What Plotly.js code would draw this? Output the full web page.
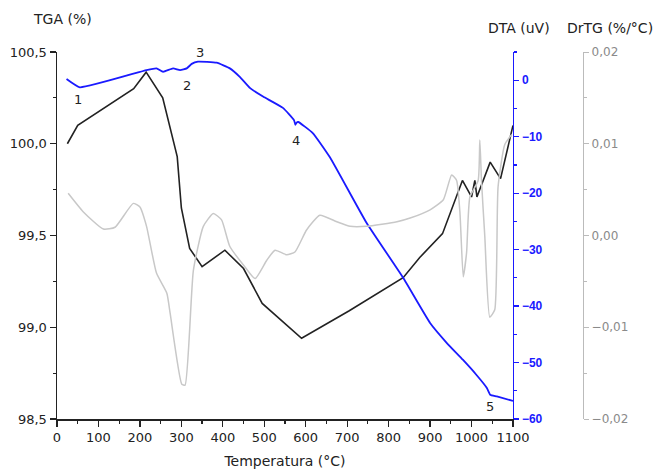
<!DOCTYPE html>
<html>
<head>
<meta charset="utf-8">
<script src="https://cdn.plot.ly/plotly-3.0.1.min.js"></script>
<style>html,body{margin:0;padding:0;background:#fff;}#chart{width:662px;height:474px;}</style>
</head>
<body>
<div id="chart"></div>
<script>
// TGA (%) curve
const tgaTemp = [25, 50, 185, 215, 255, 290, 300, 320, 350, 405, 450, 495, 590, 705, 835, 875, 930, 965, 978, 1000, 1008, 1013, 1045, 1070, 1100];
const tgaVal  = [100.0, 100.1, 100.3, 100.39, 100.25, 99.93, 99.65, 99.43, 99.33, 99.42, 99.32, 99.13, 98.94, 99.09, 99.27, 99.38, 99.51, 99.73, 99.80, 99.71, 99.80, 99.71, 99.90, 99.81, 100.1];

// DTA (uV) curve
const dtaTemp = [23, 55, 216, 240, 256, 280, 297, 313, 325, 340, 385, 417, 441, 466, 497, 545, 572, 575, 578, 582, 617, 658, 747, 835, 900, 940, 979, 1012, 1037, 1045, 1061, 1100];
const dtaVal  = [0.2, -1.25, 1.8, 2.1, 1.5, 2.1, 1.8, 2.1, 2.9, 3.3, 3.1, 2.1, 0.6, -1.4, -2.9, -4.9, -7.1, -7.9, -7.5, -7.4, -9.35, -13.6, -25.3, -35.0, -43.0, -46.5, -49.5, -52.2, -54.5, -55.7, -56.0, -56.8];

// DrTG (%/°C) curve
const drtgTemp = [27, 63, 112, 140, 184, 200, 216, 240, 265, 273, 301, 309, 329, 353, 377, 397, 417, 453, 478, 506, 526, 554, 574, 602, 634, 675, 707, 747, 820, 852, 900, 932, 952, 964, 972, 980, 988, 996, 1016, 1020, 1024, 1032, 1044, 1056, 1064, 1080, 1097];
const drtgVal  = [0.0046, 0.0026, 0.0007, 0.0009, 0.0035, 0.0031, 0.001, -0.0041, -0.0063, -0.0085, -0.0162, -0.0163, -0.0038, 0.001, 0.0024, 0.0017, -0.0012, -0.0034, -0.0047, -0.0027, -0.0016, -0.0021, -0.0018, 0.0006, 0.0022, 0.0015, 0.001, 0.001, 0.0015, 0.0019, 0.0028, 0.0039, 0.0066, 0.006, 0.0025, -0.0045, -0.0019, 0.0042, 0.006, 0.0104, 0.006, -0.0001, -0.0089, -0.0081, 0.0053, 0.0099, 0.011];

// Event labels
const eventText = ['1', '2', '3', '4', '5'];
const eventTemp = [51, 314, 345, 577, 1045];
const eventTga  = [100.24, 100.32, 100.5, 100.02, 98.57];

const font = 'DejaVu Sans, Liberation Sans, sans-serif';
const fontB = 'Liberation Sans, Arial, sans-serif';

const traces = [
  {x: drtgTemp, y: drtgVal, yaxis: 'y3', mode: 'lines', line: {color: '#c8c8c8', width: 1.5, shape: 'spline', smoothing: 0.5}, hoverinfo: 'skip'},
  {x: tgaTemp, y: tgaVal, yaxis: 'y', mode: 'lines', line: {color: '#222222', width: 1.6}},
  {x: dtaTemp, y: dtaVal, yaxis: 'y2', mode: 'lines', line: {color: '#1a1aff', width: 1.8, shape: 'spline', smoothing: 0.4}}
];

const annotations = eventText.map((t, i) => ({
  x: eventTemp[i], y: eventTga[i], xref: 'x', yref: 'y', text: t, showarrow: false,
  font: {family: font, size: 13, color: '#222'}
}));
annotations.push(
  {xref: 'paper', yref: 'paper', x: -0.05, y: 1.0, yshift: 23, xanchor: 'left', yanchor: 'bottom', text: 'TGA (%)', showarrow: false, font: {family: font, size: 14, color: '#222'}},
  {xref: 'paper', yref: 'paper', x: 0.815, y: 1.0, yshift: 14, xanchor: 'left', yanchor: 'bottom', text: 'DTA (uV)', showarrow: false, font: {family: font, size: 14, color: '#222'}},
  {xref: 'paper', yref: 'paper', x: 0.965, y: 1.0, yshift: 14, xanchor: 'left', yanchor: 'bottom', text: 'DrTG (%/°C)', showarrow: false, font: {family: font, size: 14, color: '#222'}}
);

const layout = {
  width: 662, height: 474,
  margin: {l: 57, r: 79, t: 52, b: 55},
  separators: ',.',
  showlegend: false,
  paper_bgcolor: '#fff', plot_bgcolor: '#fff',
  font: {family: font, size: 13, color: '#222'},
  xaxis: {
    domain: [0, 0.8669], range: [0, 1100], dtick: 100, tick0: 0,
    ticks: 'outside', ticklen: 6, tickwidth: 1.2, tickcolor: '#222',
    showline: true, linecolor: '#222', linewidth: 1.5, showgrid: false, zeroline: false,
    minor: {ticks: 'outside', ticklen: 3, dtick: 50, tickcolor: '#222'},
    title: {text: 'Temperatura (°C)', font: {family: font, size: 14, color: '#222'}, standoff: 12},
    tickfont: {family: font, size: 13, color: '#222'}
  },
  yaxis: {
    range: [98.5, 100.5], dtick: 0.5, tick0: 98.5, tickformat: '.1f',
    ticks: 'outside', ticklen: 6, tickwidth: 1.2, tickcolor: '#222',
    showline: true, linecolor: '#222', linewidth: 1.5, showgrid: false, zeroline: false,
    minor: {ticks: 'outside', ticklen: 3, dtick: 0.25, tickcolor: '#222'},
    tickfont: {family: font, size: 13, color: '#222'}
  },
  yaxis2: {
    overlaying: 'y', side: 'right', anchor: 'x',
    range: [-60, 5], dtick: 10, tick0: 0,
    ticks: 'outside', ticklen: 5, tickwidth: 1.2, tickcolor: '#1a1aff',
    showline: true, linecolor: '#1a1aff', linewidth: 1.5, showgrid: false, zeroline: false,
    minor: {ticks: 'outside', ticklen: 3, dtick: 5, tickcolor: '#1a1aff'},
    tickfont: {family: fontB, size: 12, color: '#1a1aff', weight: 'bold'}
  },
  yaxis3: {
    overlaying: 'y', side: 'right', anchor: 'free', position: 1,
    range: [-0.02, 0.02], dtick: 0.01, tick0: 0, tickformat: '.2f',
    ticks: 'outside', ticklen: 5, tickwidth: 1, tickcolor: '#bbbbbb',
    showline: true, linecolor: '#bbbbbb', linewidth: 1.2, showgrid: false, zeroline: false,
    minor: {ticks: 'outside', ticklen: 3, dtick: 0.005, tickcolor: '#bbbbbb'},
    tickfont: {family: font, size: 12, color: '#8a8a8a'}
  },
  annotations: annotations
};

Plotly.newPlot('chart', traces, layout, {displayModeBar: false, staticPlot: true});
</script>
</body>
</html>
